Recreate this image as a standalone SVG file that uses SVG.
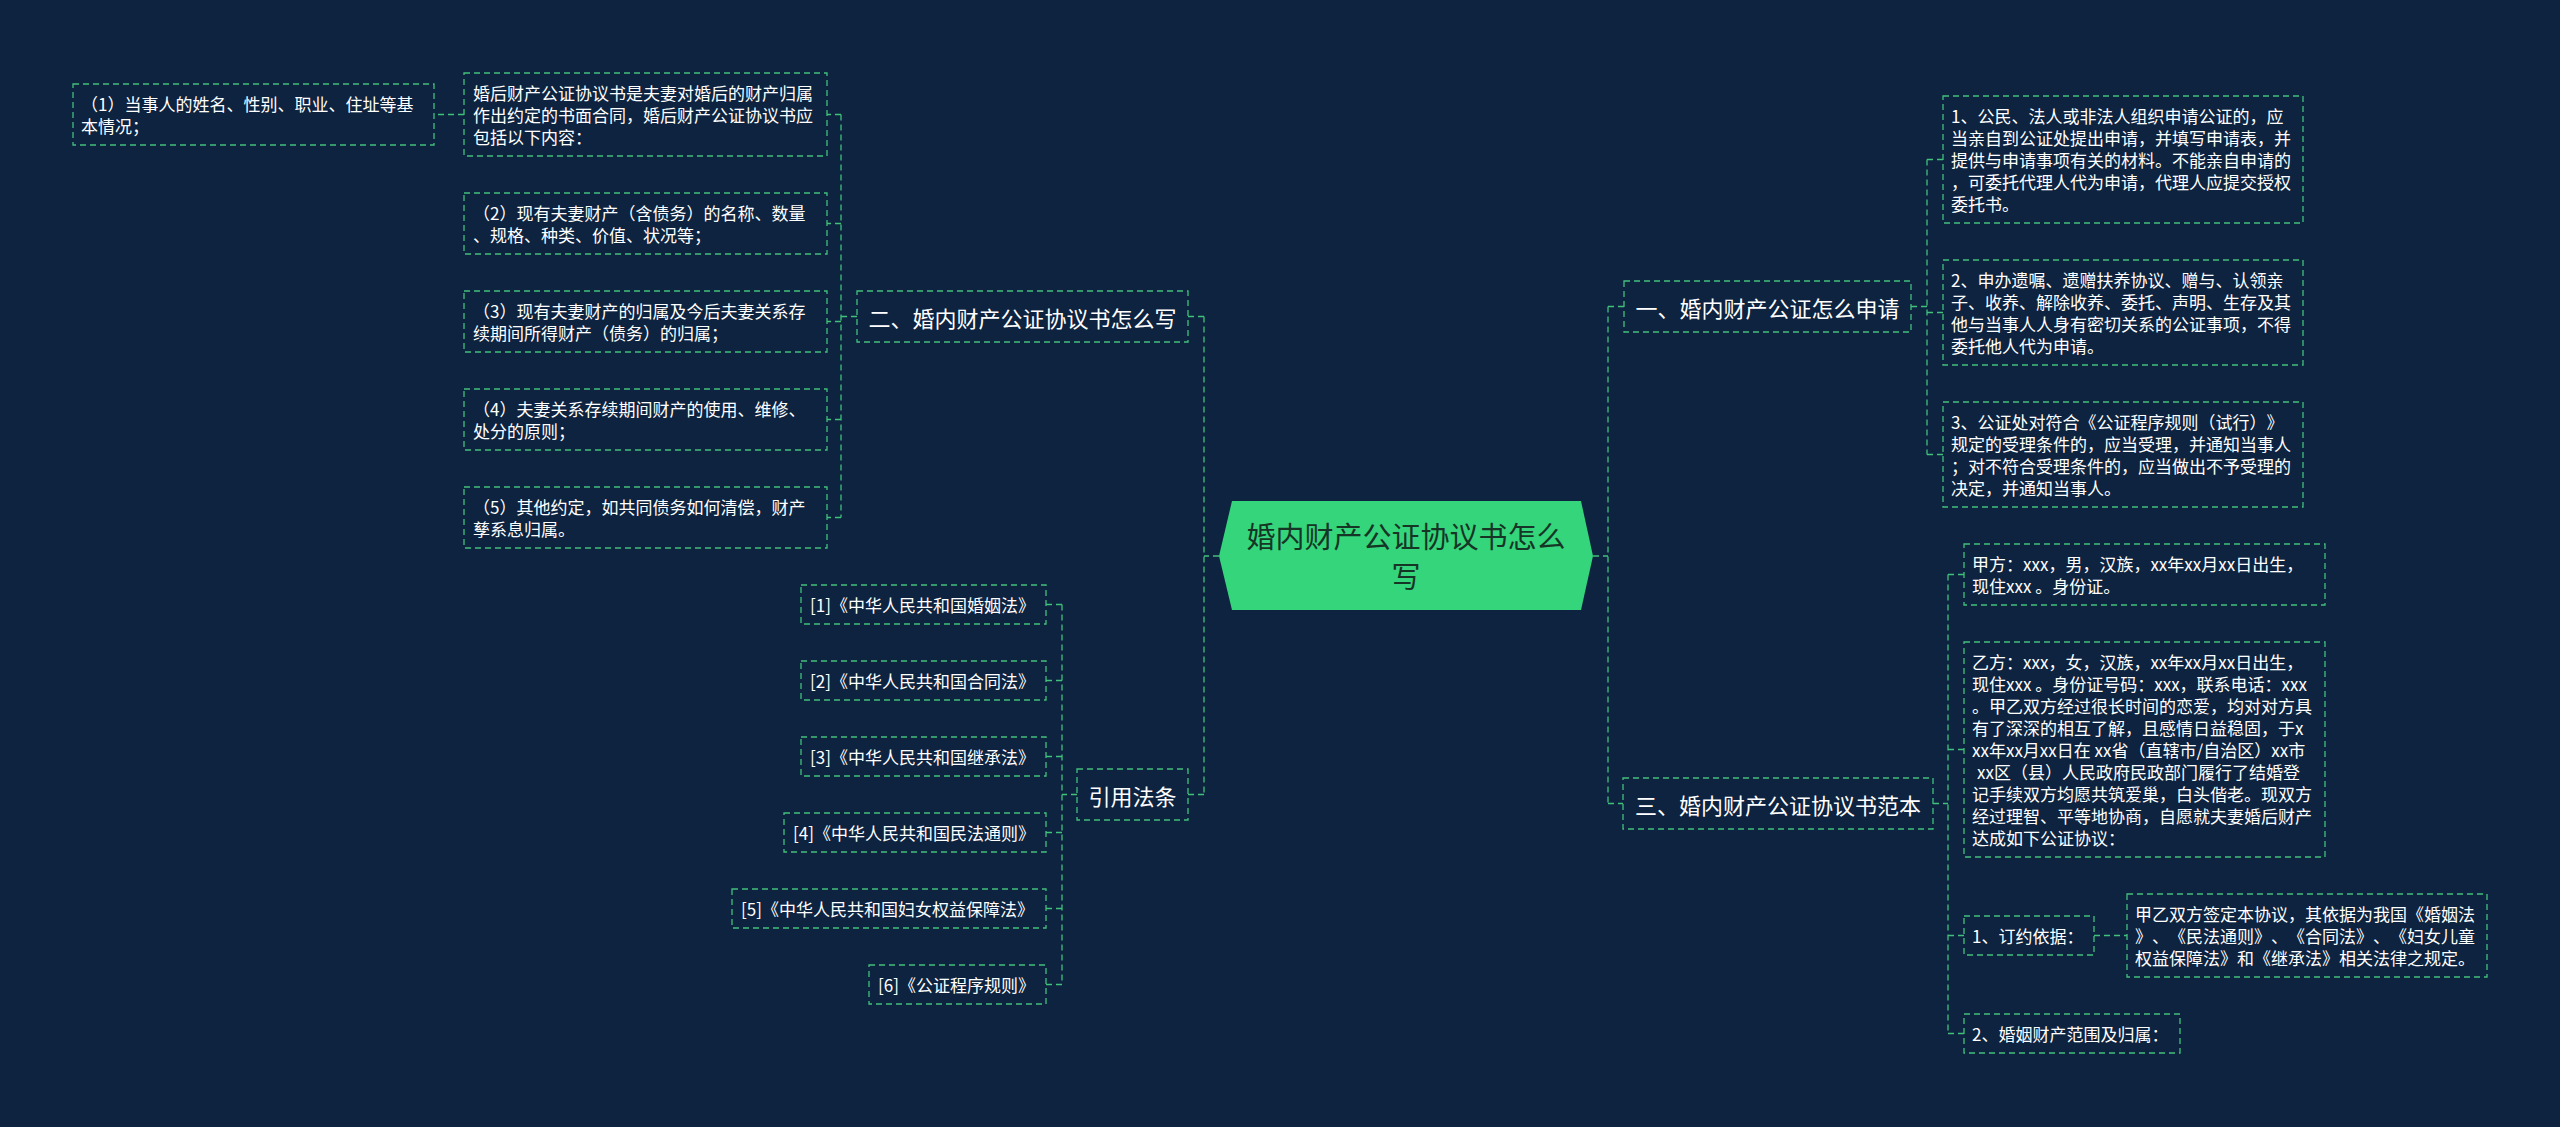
<svg xmlns="http://www.w3.org/2000/svg" width="2560" height="1127" viewBox="0 0 2560 1127">
<style>
.bg{fill:#0d233f}
.box{fill:none;stroke:#41c07c;stroke-width:1.3;stroke-dasharray:6,4}
.ln{fill:none;stroke:#41c07c;stroke-width:1.3;stroke-dasharray:6,4}
text{text-spacing-trim:space-all;font-kerning:none;font-family:"Noto Sans CJK SC","Noto Sans",sans-serif;dominant-baseline:central}
.t{font-size:17px;fill:#ffffff}
.h{font-size:22px;fill:#ffffff;text-anchor:middle}
.c{font-size:29px;fill:#173526;text-anchor:middle}
</style>
<rect class="bg" x="0" y="0" width="2560" height="1127"/>
<g id="connectors">
<path class="ln" d="M1219,556 H1204 M1204,316.5 V794.5 M1188,316.5 H1204 M1188,794.5 H1204"/>
<path class="ln" d="M1593,556 H1608 M1608,306.5 V803.5 M1608,306.5 H1624 M1608,803.5 H1623"/>
<path class="ln" d="M857,316.5 H841 M841,114.5 V517.5 M841,114.5 H827 M841,223.5 H827 M841,321.5 H827 M841,419.5 H827 M841,517.5 H827"/>
<path class="ln" d="M464,114.5 H434"/>
<path class="ln" d="M1077,794.5 H1062 M1062,604.5 V984.5 M1062,604.5 H1046 M1062,680.5 H1046 M1062,756.5 H1046 M1062,832.5 H1046 M1062,908.5 H1046 M1062,984.5 H1046"/>
<path class="ln" d="M1911,306.5 H1927 M1927,159.5 V454.5 M1927,159.5 H1943 M1927,312.5 H1943 M1927,454.5 H1943"/>
<path class="ln" d="M1933,803.5 H1948 M1948,574.5 V1033.5 M1948,574.5 H1964 M1948,749.5 H1964 M1948,935.5 H1964 M1948,1033.5 H1964"/>
<path class="ln" d="M2094,935.5 H2127"/>
</g>
<g id="center">
<polygon points="1232,501 1581,501 1593,556 1581,610 1232,610 1219,556" fill="#34d57b"/>
<text class="c" x="1406" y="535">婚内财产公证协议书怎么</text>
<text class="c" x="1406" y="575">写</text>
</g>
<g id="n-er">
<rect class="box" x="857" y="291" width="331" height="51"/>
<text class="h" x="1022.5" y="316.5">二、婚内财产公证协议书怎么写</text>
</g>
<g id="n-intro">
<rect class="box" x="464" y="73" width="363" height="83"/>
<text class="t" x="473" y="92.5">婚后财产公证协议书是夫妻对婚后的财产归属</text>
<text class="t" x="473" y="114.5">作出约定的书面合同，婚后财产公证协议书应</text>
<text class="t" x="473" y="136.5">包括以下内容：</text>
</g>
<g id="n-1">
<rect class="box" x="73" y="84" width="361" height="61"/>
<text class="t" x="81" y="103.5">（1）当事人的姓名、性别、职业、住址等基</text>
<text class="t" x="81" y="125.5">本情况；</text>
</g>
<g id="n-2">
<rect class="box" x="464" y="193" width="363" height="61"/>
<text class="t" x="473" y="212.5">（2）现有夫妻财产（含债务）的名称、数量</text>
<text class="t" x="473" y="234.5">、规格、种类、价值、状况等；</text>
</g>
<g id="n-3">
<rect class="box" x="464" y="291" width="363" height="61"/>
<text class="t" x="473" y="310.5">（3）现有夫妻财产的归属及今后夫妻关系存</text>
<text class="t" x="473" y="332.5">续期间所得财产（债务）的归属；</text>
</g>
<g id="n-4">
<rect class="box" x="464" y="389" width="363" height="61"/>
<text class="t" x="473" y="408.5">（4）夫妻关系存续期间财产的使用、维修、</text>
<text class="t" x="473" y="430.5">处分的原则；</text>
</g>
<g id="n-5">
<rect class="box" x="464" y="487" width="363" height="61"/>
<text class="t" x="473" y="506.5">（5）其他约定，如共同债务如何清偿，财产</text>
<text class="t" x="473" y="528.5">孳系息归属。</text>
</g>
<g id="n-law">
<rect class="box" x="1077" y="769" width="111" height="51"/>
<text class="h" x="1132.5" y="794.5">引用法条</text>
</g>
<g id="law-1">
<rect class="box" x="801" y="585" width="245" height="39"/>
<text class="t" x="810" y="604.5">[1]《中华人民共和国婚姻法》</text>
</g>
<g id="law-2">
<rect class="box" x="801" y="661" width="245" height="39"/>
<text class="t" x="810" y="680.5">[2]《中华人民共和国合同法》</text>
</g>
<g id="law-3">
<rect class="box" x="801" y="737" width="245" height="39"/>
<text class="t" x="810" y="756.5">[3]《中华人民共和国继承法》</text>
</g>
<g id="law-4">
<rect class="box" x="784" y="813" width="262" height="39"/>
<text class="t" x="793" y="832.5">[4]《中华人民共和国民法通则》</text>
</g>
<g id="law-5">
<rect class="box" x="732" y="889" width="314" height="39"/>
<text class="t" x="741" y="908.5">[5]《中华人民共和国妇女权益保障法》</text>
</g>
<g id="law-6">
<rect class="box" x="869" y="965" width="177" height="39"/>
<text class="t" x="878" y="984.5">[6]《公证程序规则》</text>
</g>
<g id="n-yi">
<rect class="box" x="1624" y="281" width="287" height="51"/>
<text class="h" x="1767.5" y="306.5">一、婚内财产公证怎么申请</text>
</g>
<g id="r-1">
<rect class="box" x="1943" y="96" width="360" height="127"/>
<text class="t" x="1951" y="115.5">1、公民、法人或非法人组织申请公证的，应</text>
<text class="t" x="1951" y="137.5">当亲自到公证处提出申请，并填写申请表，并</text>
<text class="t" x="1951" y="159.5">提供与申请事项有关的材料。不能亲自申请的</text>
<text class="t" x="1951" y="181.5">，可委托代理人代为申请，代理人应提交授权</text>
<text class="t" x="1951" y="203.5">委托书。</text>
</g>
<g id="r-2">
<rect class="box" x="1943" y="260" width="360" height="105"/>
<text class="t" x="1951" y="279.5">2、申办遗嘱、遗赠扶养协议、赠与、认领亲</text>
<text class="t" x="1951" y="301.5">子、收养、解除收养、委托、声明、生存及其</text>
<text class="t" x="1951" y="323.5">他与当事人人身有密切关系的公证事项，不得</text>
<text class="t" x="1951" y="345.5">委托他人代为申请。</text>
</g>
<g id="r-3">
<rect class="box" x="1943" y="402" width="360" height="105"/>
<text class="t" x="1951" y="421.5">3、公证处对符合《公证程序规则（试行）》</text>
<text class="t" x="1951" y="443.5">规定的受理条件的，应当受理，并通知当事人</text>
<text class="t" x="1951" y="465.5">；对不符合受理条件的，应当做出不予受理的</text>
<text class="t" x="1951" y="487.5">决定，并通知当事人。</text>
</g>
<g id="n-san">
<rect class="box" x="1623" y="778" width="310" height="51"/>
<text class="h" x="1778" y="803.5">三、婚内财产公证协议书范本</text>
</g>
<g id="s-jia">
<rect class="box" x="1964" y="544" width="361" height="61"/>
<text class="t" x="1972" y="563.5">甲方：xxx，男，汉族，xx年xx月xx日出生，</text>
<text class="t" x="1972" y="585.5">现住xxx 。身份证。</text>
</g>
<g id="s-yi">
<rect class="box" x="1964" y="642" width="361" height="215"/>
<text class="t" x="1972" y="661.5">乙方：xxx，女，汉族，xx年xx月xx日出生，</text>
<text class="t" x="1972" y="683.5">现住xxx 。身份证号码：xxx，联系电话：xxx</text>
<text class="t" x="1972" y="705.5">。甲乙双方经过很长时间的恋爱，均对对方具</text>
<text class="t" x="1972" y="727.5">有了深深的相互了解，且感情日益稳固，于x</text>
<text class="t" x="1972" y="749.5">xx年xx月xx日在 xx省（直辖市/自治区）xx市</text>
<text class="t" x="1977" y="771.5">xx区（县）人民政府民政部门履行了结婚登</text>
<text class="t" x="1972" y="793.5">记手续双方均愿共筑爱巢，白头偕老。现双方</text>
<text class="t" x="1972" y="815.5">经过理智、平等地协商，自愿就夫妻婚后财产</text>
<text class="t" x="1972" y="837.5">达成如下公证协议：</text>
</g>
<g id="s-1">
<rect class="box" x="1964" y="916" width="130" height="39"/>
<text class="t" x="1972" y="935.5">1、订约依据：</text>
</g>
<g id="s-1a">
<rect class="box" x="2127" y="894" width="360" height="83"/>
<text class="t" x="2135" y="913.5">甲乙双方签定本协议，其依据为我国《婚姻法</text>
<text class="t" x="2135" y="935.5">》、《民法通则》、《合同法》、《妇女儿童</text>
<text class="t" x="2135" y="957.5">权益保障法》和《继承法》相关法律之规定。</text>
</g>
<g id="s-2">
<rect class="box" x="1964" y="1014" width="216" height="39"/>
<text class="t" x="1972" y="1033.5">2、婚姻财产范围及归属：</text>
</g>
</svg>
